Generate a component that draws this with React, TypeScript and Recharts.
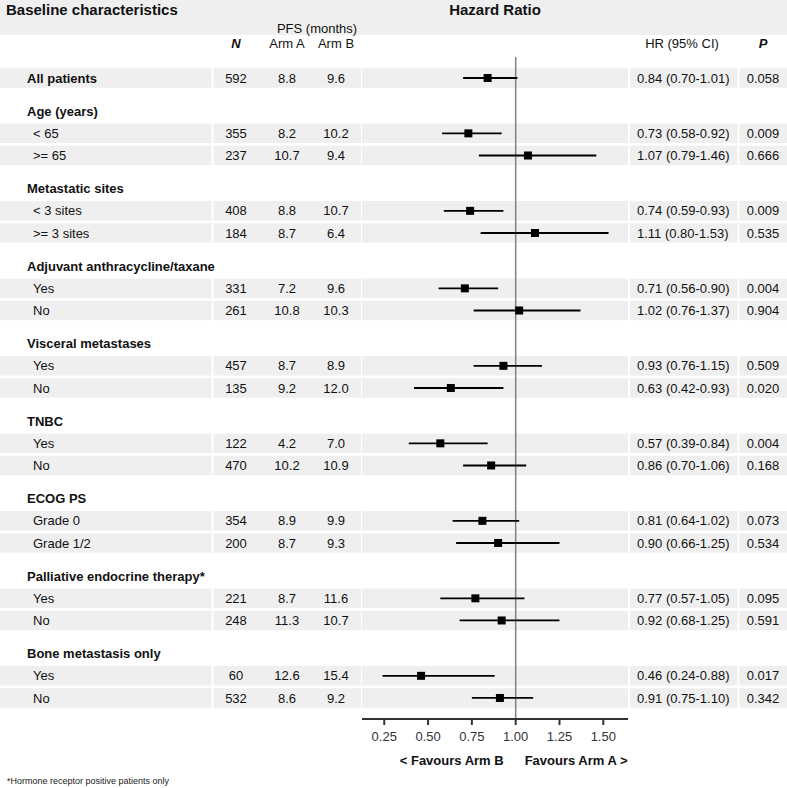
import React from 'react';
import { ScatterChart, Scatter, XAxis, YAxis, ErrorBar, ReferenceArea, ReferenceLine, Label } from 'recharts';

// subgroup rows (first row is the overall population)
const rowLabels = ['All patients', '< 65', '>= 65', '< 3 sites', '>= 3 sites', 'Yes', 'No', 'Yes', 'No', 'Yes', 'No', 'Grade 0', 'Grade 1/2', 'Yes', 'No', 'Yes', 'No'];
const groupLabels = ['Age (years)', 'Metastatic sites', 'Adjuvant anthracycline/taxane', 'Visceral metastases', 'TNBC', 'ECOG PS', 'Palliative endocrine therapy*', 'Bone metastasis only'];
const patientsN = [592, 355, 237, 408, 184, 331, 261, 457, 135, 122, 470, 354, 200, 221, 248, 60, 532];
const pfsArmA = [8.8, 8.2, 10.7, 8.8, 8.7, 7.2, 10.8, 8.7, 9.2, 4.2, 10.2, 8.9, 8.7, 8.7, 11.3, 12.6, 8.6];
const pfsArmB = [9.6, 10.2, 9.4, 10.7, 6.4, 9.6, 10.3, 8.9, 12.0, 7.0, 10.9, 9.9, 9.3, 11.6, 10.7, 15.4, 9.2];
const hazardRatio = [0.84, 0.73, 1.07, 0.74, 1.11, 0.71, 1.02, 0.93, 0.63, 0.57, 0.86, 0.81, 0.90, 0.77, 0.92, 0.46, 0.91];
const ciLow = [0.70, 0.58, 0.79, 0.59, 0.80, 0.56, 0.76, 0.76, 0.42, 0.39, 0.70, 0.64, 0.66, 0.57, 0.68, 0.24, 0.75];
const ciHigh = [1.01, 0.92, 1.46, 0.93, 1.53, 0.90, 1.37, 1.15, 0.93, 0.84, 1.06, 1.02, 1.25, 1.05, 1.25, 0.88, 1.10];
const pValues = [0.058, 0.009, 0.666, 0.009, 0.535, 0.004, 0.904, 0.509, 0.020, 0.004, 0.168, 0.073, 0.534, 0.095, 0.591, 0.017, 0.342];
const hrTicks = [0.25, 0.5, 0.75, 1, 1.25, 1.5];

const FONT = '"Liberation Sans", Arial, sans-serif';
const BG = '#efefef';
const X_DOMAIN = [0.123, 1.641];
const Y_DOMAIN = [-3.523, 28.95];

// vertical position (in row units) of each row / group heading
const rowPos = (i: number) => (i === 0 ? 0 : 2.5 + 3.5 * Math.floor((i - 1) / 2) + ((i - 1) % 2));
const groupPos = (g: number) => 1.5 + 3.5 * g;

type Line = { pos: number; kind: string; idx: number };
const tableLines: Line[] = [
  { pos: -3.07, kind: 'title', idx: 0 },
  { pos: -2.26, kind: 'pfs', idx: 0 },
  { pos: -1.58, kind: 'head', idx: 0 },
  ...groupLabels.map((_, g) => ({ pos: groupPos(g), kind: 'group', idx: g })),
  ...rowLabels.map((_, i) => ({ pos: rowPos(i), kind: 'row', idx: i })),
];

const data = hazardRatio.map((hr, i) => ({
  x: hr,
  y: rowPos(i),
  err: [hr - ciLow[i], ciHigh[i] - hr],
}));

const txt = { fontFamily: FONT, fontSize: 13, fill: '#111' };

const TableTick = (props: any) => {
  const { y, payload } = props;
  const line = tableLines.find((l) => Math.abs(l.pos - payload.value) < 1e-6);
  if (!line) return null;
  const t = (x: number, s: string, anchor = 'middle', extra: any = {}) => (
    <text x={x} y={y} dy="0.35em" textAnchor={anchor} {...txt} {...extra}>{s}</text>
  );
  if (line.kind === 'title') {
    return (
      <g>
        <rect x={0} y={0} width={787} height={35} fill={BG} />
        {t(6, 'Baseline characteristics', 'start', { fontSize: 15, fontWeight: 'bold' })}
        {t(495, 'Hazard Ratio', 'middle', { fontSize: 15, fontWeight: 'bold' })}
      </g>
    );
  }
  if (line.kind === 'pfs') return <g>{t(317, 'PFS (months)')}</g>;
  if (line.kind === 'head') {
    return (
      <g>
        {t(236, 'N', 'middle', { fontWeight: 'bold', fontStyle: 'italic' })}
        {t(287, 'Arm A')}
        {t(336, 'Arm B')}
        {t(682, 'HR (95% CI)')}
        {t(763, 'P', 'middle', { fontWeight: 'bold', fontStyle: 'italic' })}
      </g>
    );
  }
  if (line.kind === 'group') return <g>{t(27, groupLabels[line.idx], 'start', { fontWeight: 'bold' })}</g>;
  const i = line.idx;
  const h = 19.5;
  return (
    <g>
      <rect x={0} y={y - h / 2} width={211.5} height={h} fill={BG} />
      <rect x={213.5} y={y - h / 2} width={147.5} height={h} fill={BG} />
      <rect x={630} y={y - h / 2} width={107.5} height={h} fill={BG} />
      <rect x={739.5} y={y - h / 2} width={47.5} height={h} fill={BG} />
      {i === 0 ? t(27, rowLabels[i], 'start', { fontWeight: 'bold' }) : t(33, rowLabels[i], 'start')}
      {t(236, String(patientsN[i]))}
      {t(287, pfsArmA[i].toFixed(1))}
      {t(336, pfsArmB[i].toFixed(1))}
      {t(637, `${hazardRatio[i].toFixed(2)} (${ciLow[i].toFixed(2)}-${ciHigh[i].toFixed(2)})`, 'start')}
      {t(763, pValues[i].toFixed(3))}
    </g>
  );
};

const FavoursLabel = (props: any) => {
  const { viewBox } = props;
  const x1 = viewBox.x + ((1 - X_DOMAIN[0]) / (X_DOMAIN[1] - X_DOMAIN[0])) * viewBox.width;
  const y = 760;
  return (
    <g>
      <text x={x1 - 12} y={y} dy="0.35em" textAnchor="end" {...txt} fontWeight="bold">{'< Favours Arm B'}</text>
      <text x={x1 + 9} y={y} dy="0.35em" textAnchor="start" {...txt} fontWeight="bold">{'Favours Arm A >'}</text>
    </g>
  );
};

const Square = (props: any) => {
  const { cx, cy } = props;
  return <rect x={cx - 4} y={cy - 4} width={8} height={8} fill="#000" />;
};

export default function App() {
  return (
    <div style={{ position: 'absolute', left: 0, top: 0, width: 787, height: 788, background: '#fff' }}>
      <ScatterChart width={787} height={788} margin={{ top: 0, right: 159, bottom: 0, left: 0 }}>
        {rowLabels.map((_, i) => (
          <ReferenceArea key={i} y1={rowPos(i) - 0.44} y2={rowPos(i) + 0.44} fill={BG} fillOpacity={1} stroke="none" />
        ))}
        <XAxis
          type="number"
          dataKey="x"
          domain={X_DOMAIN}
          allowDataOverflow
          ticks={hrTicks}
          interval={0}
          tickFormatter={(v: number) => v.toFixed(2)}
          height={69}
          axisLine={{ stroke: '#333', strokeWidth: 2 }}
          tickLine={{ stroke: '#333', strokeWidth: 2 }}
          tickSize={6}
          tickMargin={7}
          tick={{ fontFamily: FONT, fontSize: 13, fill: '#333' }}
        >
          <Label content={FavoursLabel} />
        </XAxis>
        <YAxis
          type="number"
          dataKey="y"
          domain={Y_DOMAIN}
          allowDataOverflow
          reversed
          width={362}
          ticks={tableLines.map((l) => l.pos)}
          interval={0}
          axisLine={false}
          tickLine={false}
          tick={TableTick}
        />
        <ReferenceLine
          segment={[{ x: 1, y: -0.95 }, { x: 1, y: Y_DOMAIN[1] }]}
          stroke="#808080"
          strokeWidth={1.5}
          ifOverflow="visible"
        />
        <Scatter data={data} shape={Square} isAnimationActive={false}>
          <ErrorBar dataKey="err" direction="x" width={0} stroke="#000" strokeWidth={1.8} isAnimationActive={false} />
        </Scatter>
      </ScatterChart>
      <div style={{ position: 'absolute', left: 7, top: 775, fontFamily: FONT, fontSize: 9, lineHeight: '13px', color: '#222' }}>
        *Hormone receptor positive patients only
      </div>
    </div>
  );
}
